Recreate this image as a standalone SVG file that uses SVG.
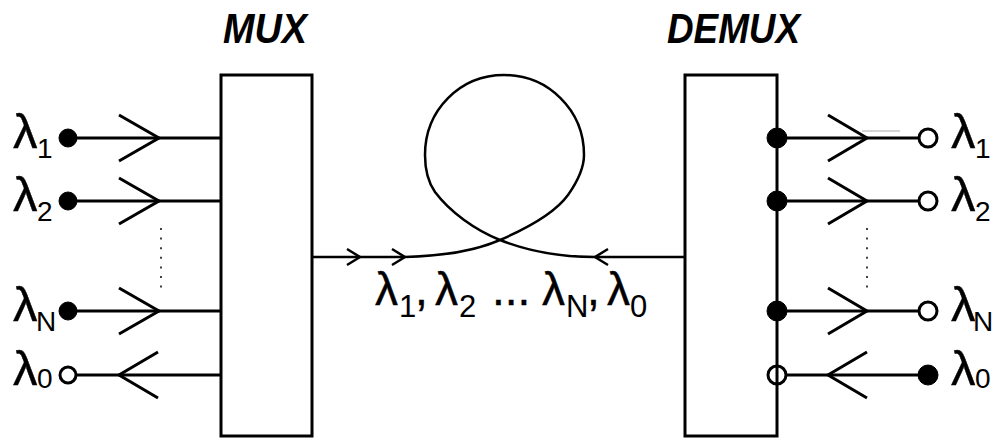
<svg xmlns="http://www.w3.org/2000/svg" width="995" height="439" viewBox="0 0 995 439">
<style>
.ln{stroke:#000;stroke-width:3;fill:none}
.thin{stroke:#000;stroke-width:2.5;fill:none}
.dot{stroke:#000;stroke-width:1.5;stroke-dasharray:2 7.6;fill:none}
.lam{font-family:"Liberation Sans",Arial,sans-serif;font-size:49px;fill:#000;stroke:#000;stroke-width:0.4}
.sub{font-family:"Liberation Sans",Arial,sans-serif;font-size:28px;fill:#000}
.mlam{font-family:"Liberation Sans",Arial,sans-serif;font-size:46px;fill:#000;stroke:#000;stroke-width:0.4}
.msub{font-family:"Liberation Sans",Arial,sans-serif;font-size:31px;fill:#000}
.title{font-family:"Liberation Sans",Arial,sans-serif;font-size:43px;font-weight:bold;font-style:italic;fill:#000}
.fill{fill:#000;stroke:#000;stroke-width:1}
.open{fill:#fff;stroke:#000;stroke-width:3}
</style>
<rect width="995" height="439" fill="#fff"/>

<g id="mux">
<rect x="221" y="75" width="91" height="361" class="ln"/>
<text x="265" y="43" class="title" text-anchor="middle" textLength="84" lengthAdjust="spacingAndGlyphs">MUX</text>
</g>

<g id="demux">
<rect x="685" y="75" width="92" height="361" class="ln"/>
<text x="733.5" y="43" class="title" text-anchor="middle" textLength="133" lengthAdjust="spacingAndGlyphs">DEMUX</text>
</g>

<g id="fiber">
<path class="thin" d="M405,257 C445,256 475,251 500,240 C530,227 555,213 568,195 C580,178 584,165 584,155 C584,110 548,75 504,75 C460,75 425,110 425,155 C425,170 428,182 435,192 C450,212 475,230 500,240 C530,252 565,257 595,257"/>
<text x="375" y="305" class="mlam">λ</text><text x="399" y="317" class="msub">1</text><text x="415" y="305" class="mlam">,</text>
<text x="435" y="305" class="mlam">λ</text><text x="459" y="317" class="msub">2</text>
<text x="492" y="305" class="mlam">...</text>
<text x="542" y="305" class="mlam">λ</text><text x="566" y="317" class="msub">N</text><text x="587" y="305" class="mlam">,</text>
<text x="607" y="305" class="mlam">λ</text><text x="630" y="317" class="msub">0</text>
</g>

<g id="connectors">
<line x1="68" y1="138" x2="221" y2="138" class="ln"/>
<line x1="68" y1="201" x2="221" y2="201" class="ln"/>
<line x1="68" y1="311" x2="221" y2="311" class="ln"/>
<line x1="68" y1="375" x2="221" y2="375" class="ln"/>
<polyline points="119,115 159,138 119,161" class="ln"/>
<polyline points="119,178 159,201 119,224" class="ln"/>
<polyline points="119,288 159,311 119,334" class="ln"/>
<polyline points="158,352 119,375 158,398" class="ln"/>
<line x1="161" y1="228" x2="161" y2="288" class="dot"/>
<line x1="312" y1="257" x2="405" y2="257" class="thin"/>
<line x1="595" y1="257" x2="685" y2="257" class="thin"/>
<polyline points="347,249 360,257 347,265" class="thin"/>
<polyline points="392,249 405,257 392,265" class="thin"/>
<polyline points="608,249 595,257 608,265" class="thin"/>
<line x1="777" y1="138" x2="928" y2="138" class="ln"/>
<line x1="777" y1="201" x2="928" y2="201" class="ln"/>
<line x1="777" y1="311" x2="928" y2="311" class="ln"/>
<line x1="786" y1="375" x2="928" y2="375" class="ln"/>
<polyline points="828,115 867,138 828,161" class="ln"/>
<polyline points="828,178 867,201 828,224" class="ln"/>
<polyline points="828,288 867,311 828,334" class="ln"/>
<polyline points="867,352 828,375 867,398" class="ln"/>
<line x1="867" y1="228" x2="867" y2="288" class="dot"/>
<line x1="862" y1="131" x2="900" y2="131" stroke="#aaa" stroke-width="1"/>
</g>

<g id="left-ports">
<circle cx="68" cy="138" r="9" class="fill"/>
<circle cx="68" cy="201" r="9" class="fill"/>
<circle cx="68" cy="311" r="9" class="fill"/>
<circle cx="68" cy="375" r="8" class="open"/>
<text x="13" y="148" class="lam">λ</text><text x="37" y="158" class="sub">1</text>
<text x="13" y="211" class="lam">λ</text><text x="37" y="221" class="sub">2</text>
<text x="13" y="321" class="lam">λ</text><text x="36" y="331" class="sub">N</text>
<text x="13" y="385" class="lam">λ</text><text x="37" y="388" class="sub">0</text>
</g>

<g id="right-ports">
<circle cx="777" cy="138" r="10" class="fill"/>
<circle cx="777" cy="201" r="10" class="fill"/>
<circle cx="777" cy="311" r="10" class="fill"/>
<circle cx="777" cy="375" r="9" class="open" fill-opacity="0"/>
<circle cx="928" cy="138" r="9" class="open"/>
<circle cx="928" cy="201" r="9" class="open"/>
<circle cx="928" cy="311" r="9" class="open"/>
<circle cx="928" cy="375" r="10" class="fill"/>
<text x="951" y="148" class="lam">λ</text><text x="975" y="158" class="sub">1</text>
<text x="951" y="211" class="lam">λ</text><text x="975" y="221" class="sub">2</text>
<text x="951" y="321" class="lam">λ</text><text x="973" y="331" class="sub">N</text>
<text x="951" y="385" class="lam">λ</text><text x="975" y="388" class="sub">0</text>
</g>
</svg>
